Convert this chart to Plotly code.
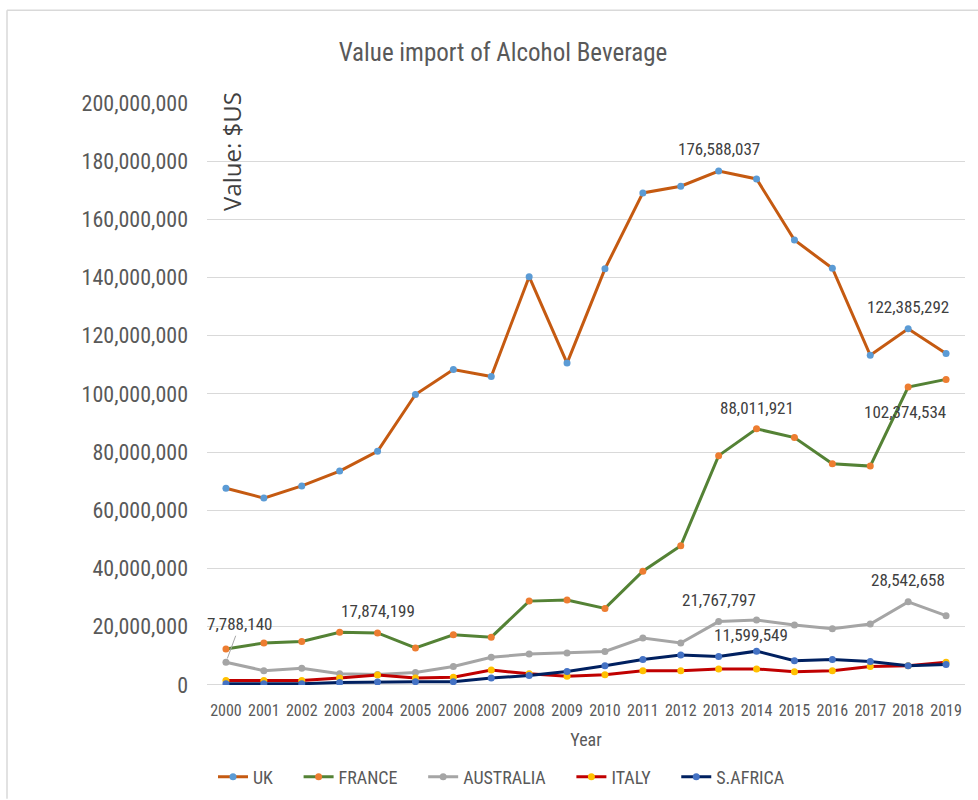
import plotly.graph_objects as go

years = list(range(2000, 2020))
uk = [67.6e6, 64.2e6, 68.4e6, 73.5e6, 80.3e6, 99.8e6, 108.4e6, 106.0e6, 140.3e6, 110.6e6,
      143.0e6, 169.1e6, 171.4e6, 176588037, 173.9e6, 152.9e6, 143.2e6, 113.3e6, 122385292, 113.9e6]
france = [12.35e6, 14.4e6, 14.9e6, 18.1e6, 17874199, 12.7e6, 17.2e6, 16.4e6, 28.8e6, 29.2e6,
          26.3e6, 39.1e6, 47.8e6, 78.8e6, 88011921, 85.0e6, 76.0e6, 75.2e6, 102374534, 105.0e6]
australia = [7788140, 4.9e6, 5.7e6, 3.8e6, 3.6e6, 4.3e6, 6.3e6, 9.5e6, 10.6e6, 11.0e6,
             11.5e6, 16.1e6, 14.4e6, 21767797, 22.3e6, 20.6e6, 19.3e6, 20.9e6, 28542658, 23.8e6]
italy = [1.5e6, 1.5e6, 1.5e6, 2.4e6, 3.4e6, 2.4e6, 2.6e6, 5.1e6, 3.8e6, 3.0e6,
         3.5e6, 4.9e6, 4.9e6, 5.5e6, 5.5e6, 4.5e6, 4.9e6, 6.3e6, 6.6e6, 7.8e6]
safrica = [0.4e6, 0.4e6, 0.4e6, 0.8e6, 1.0e6, 1.1e6, 1.1e6, 2.4e6, 3.2e6, 4.6e6,
           6.6e6, 8.7e6, 10.3e6, 9.8e6, 11599549, 8.3e6, 8.7e6, 8.0e6, 6.6e6, 7.0e6]

series = [
    ("UK", uk, "#C55A11", "#5B9BD5"),
    ("FRANCE", france, "#548235", "#ED7D31"),
    ("AUSTRALIA", australia, "#A5A5A5", "#A5A5A5"),
    ("ITALY", italy, "#C00000", "#FFC000"),
    ("S.AFRICA", safrica, "#002060", "#4472C4"),
]

y_ticks = list(range(0, 200000001, 20000000))

NARROW = "Liberation Sans Narrow, Arial Narrow, Roboto Condensed, sans-serif"
TXT = "#595959"

fig = go.Figure()
for name, vals, lc, mc in series:
    fig.add_trace(go.Scatter(
        x=years, y=vals, name=name + "\u00a0" * 5, mode="lines+markers",
        line=dict(color=lc, width=3),
        marker=dict(color=mc, size=7),
    ))

# data labels: (series values, year, yshift, xshift)
labels = [
    (uk, 2013, 22, 0),
    (uk, 2018, 22, 0),
    (france, 2014, 21, 0),
    (france, 2018, -25, -3),
    (australia, 2018, 22, 0),
    (australia, 2013, 22, 0),
    (safrica, 2014, 16, -6),
    (france, 2004, 22, 0),
]
for vals, yr, ys, xs in labels:
    v = vals[years.index(yr)]
    fig.add_annotation(x=yr, y=v, text=f"{int(round(v)):,}", showarrow=False,
                       yshift=ys, xshift=xs,
                       font=dict(family=NARROW, size=17, color="#404040"))

v0 = australia[0]
fig.add_annotation(x=2000, y=v0, text=f"{int(round(v0)):,}", showarrow=True,
                   arrowhead=0, arrowwidth=1, arrowcolor="#A6A6A6",
                   ax=14, ay=-38, standoff=4,
                   font=dict(family=NARROW, size=17, color="#404040"))

# outer chart frame / layout in pixels
L, T, W, H = 207, 103, 758, 583
def px(x):
    return (x - L) / W
def py(y):
    return (T + H - y) / H

# y-axis title placed inside plot
fig.add_annotation(xref="paper", yref="paper", x=px(232), y=py(152), xanchor="center",
                   yanchor="middle", text="Value: $US", textangle=-90, showarrow=False,
                   font=dict(family="Open Sans, sans-serif", size=24, color="#404040"))

fig.add_shape(type="line", xref="paper", yref="paper", x0=px(7), x1=px(978), y0=py(10), y1=py(10),
              line=dict(color="#D9D9D9", width=1.5))
fig.add_shape(type="line", xref="paper", yref="paper", x0=px(7), x1=px(7), y0=py(10), y1=py(800),
              line=dict(color="#D9D9D9", width=1.5))

fig.update_layout(
    width=978, height=800,
    margin=dict(l=L, r=978 - L - W, t=T, b=800 - T - H),
    paper_bgcolor="white", plot_bgcolor="white",
    title=dict(text="Value import of Alcohol Beverage", x=503 / 978, xanchor="center",
               y=1 - 52 / 800, yanchor="middle",
               font=dict(family=NARROW, size=25, color=TXT)),
    xaxis=dict(range=[1999.5, 2019.5], tickmode="array", tickvals=years,
               ticktext=[str(y) for y in years], showgrid=False, zeroline=False,
               showline=False, ticks="", ticklabelstandoff=14,
               tickfont=dict(family=NARROW, size=16, color=TXT),
               title=dict(text="Year", standoff=14, font=dict(family=NARROW, size=18, color=TXT))),
    yaxis=dict(range=[0, 200000000], tickmode="array", tickvals=y_ticks, tickformat=",d",
               showgrid=True, gridcolor="#D9D9D9", gridwidth=1, zeroline=True,
               zerolinecolor="#D9D9D9", zerolinewidth=1, showline=False, ticks="",
               ticklabelstandoff=18,
               tickfont=dict(family=NARROW, size=22, color=TXT)),
    showlegend=True,
    legend=dict(orientation="h", xref="container", yref="container",
                x=213 / 978, xanchor="left", y=1 - 777 / 800, yanchor="middle",
                font=dict(family=NARROW, size=18, color=TXT), itemwidth=30,
                bgcolor="rgba(0,0,0,0)"),
)

fig.write_html("out.html")
